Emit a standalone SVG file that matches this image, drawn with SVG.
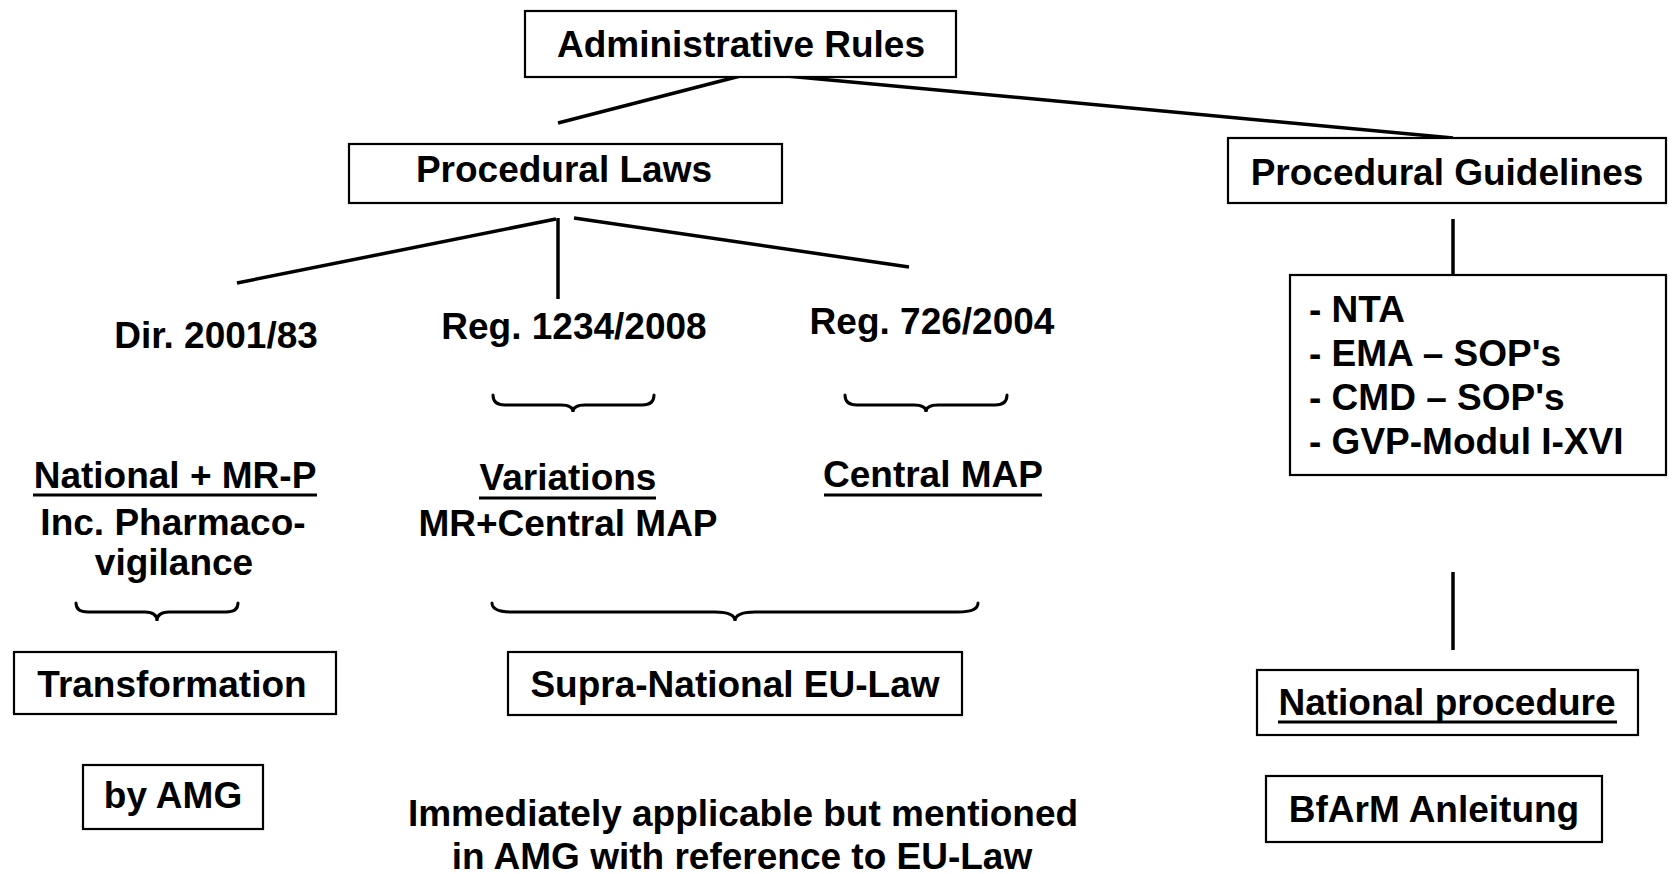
<svg xmlns="http://www.w3.org/2000/svg" width="1672" height="874" viewBox="0 0 1672 874">
  <style>
    text { font-family: "Liberation Sans", Arial, Helvetica, sans-serif; font-weight: bold; font-size: 37px; fill: #000; }
    .c { text-anchor: middle; }
    .box { fill: #fff; stroke: #000; stroke-width: 2.2; }
    .link { stroke: #000; stroke-width: 3.5; fill: none; }
    .brace { stroke: #000; stroke-width: 3; fill: none; stroke-linecap: round; }
    .ul { stroke: #000; stroke-width: 3; }
  </style>
  <rect width="1672" height="874" fill="#fff"/>

  <!-- connectors -->
  <g id="connectors">
    <line class="link" x1="748" y1="74" x2="558" y2="123"/>
    <line class="link" x1="765" y1="74" x2="1453" y2="138"/>
    <line class="link" x1="556" y1="219" x2="237" y2="283"/>
    <line class="link" x1="558" y1="218" x2="558" y2="299"/>
    <line class="link" x1="574" y1="218" x2="909" y2="267"/>
    <line class="link" x1="1453" y1="219" x2="1453" y2="283"/>
    <line class="link" x1="1453" y1="572" x2="1453" y2="650"/>
  </g>

  <!-- braces -->
  <g id="braces">
    <path class="brace" d="M493,395 Q493,405 505,405 L561,405 Q573,405 573,412 Q573,405 585,405 L642,405 Q654,405 654,395"/>
    <path class="brace" d="M845,395 Q845,405 857,405 L914,405 Q926,405 926,412 Q926,405 938,405 L995,405 Q1007,405 1007,395"/>
    <path class="brace" d="M76,603 Q76,612 88,612 L145,612 Q157,612 157,621 Q157,612 169,612 L226,612 Q238,612 238,603"/>
    <path class="brace" d="M492,603 Q492,612 512,612 L715,612 Q735,612 735,621 Q735,612 755,612 L958,612 Q978,612 978,603"/>
  </g>

  <g id="admin-rules">
    <rect class="box" x="525" y="11" width="431" height="66"/>
    <text class="c" x="741" y="57">Administrative Rules</text>
  </g>

  <g id="procedural-laws">
    <rect class="box" x="349" y="144" width="433" height="59"/>
    <text class="c" x="564" y="182">Procedural Laws</text>
  </g>

  <g id="procedural-guidelines">
    <rect class="box" x="1228" y="138" width="438" height="65"/>
    <text class="c" x="1447" y="185">Procedural Guidelines</text>
  </g>

  <g id="guideline-list">
    <rect class="box" x="1290" y="275" width="376" height="200"/>
    <text x="1309" y="322">- NTA</text>
    <text x="1309" y="366">- EMA – SOP's</text>
    <text x="1309" y="410">- CMD – SOP's</text>
    <text x="1309" y="454">- GVP-Modul I-XVI</text>
  </g>

  <g id="dir-2001-83">
    <text class="c" x="216" y="348">Dir. 2001/83</text>
  </g>
  <g id="reg-1234-2008">
    <text class="c" x="574" y="339">Reg. 1234/2008</text>
  </g>
  <g id="reg-726-2004">
    <text class="c" x="932" y="334">Reg. 726/2004</text>
  </g>

  <g id="national-mrp">
    <text class="c" x="175" y="488">National + MR-P</text>
    <line class="ul" x1="33" y1="495" x2="317" y2="495"/>
    <text class="c" x="173" y="535">Inc. Pharmaco-</text>
    <text class="c" x="174" y="575">vigilance</text>
  </g>

  <g id="variations">
    <text class="c" x="568" y="490">Variations</text>
    <line class="ul" x1="479" y1="498" x2="656" y2="498"/>
    <text class="c" x="568" y="536">MR+Central MAP</text>
  </g>

  <g id="central-map">
    <text class="c" x="933" y="487">Central MAP</text>
    <line class="ul" x1="824" y1="495" x2="1042" y2="495"/>
  </g>

  <g id="transformation">
    <rect class="box" x="14" y="652" width="322" height="62"/>
    <text class="c" x="172" y="697">Transformation</text>
  </g>

  <g id="supra-national">
    <rect class="box" x="508" y="652" width="454" height="63"/>
    <text class="c" x="735" y="697">Supra-National EU-Law</text>
  </g>

  <g id="by-amg">
    <rect class="box" x="83" y="765" width="180" height="64"/>
    <text class="c" x="173" y="808">by AMG</text>
  </g>

  <g id="eu-law-note">
    <text class="c" x="743" y="826">Immediately applicable but mentioned</text>
    <text class="c" x="742" y="869">in AMG with reference to EU-Law</text>
  </g>

  <g id="national-procedure">
    <rect class="box" x="1257" y="670" width="381" height="65"/>
    <text class="c" x="1447" y="715">National procedure</text>
    <line class="ul" x1="1278" y1="722" x2="1617" y2="722"/>
  </g>

  <g id="bfarm">
    <rect class="box" x="1266" y="776" width="336" height="66"/>
    <text class="c" x="1434" y="822">BfArM Anleitung</text>
  </g>
</svg>
